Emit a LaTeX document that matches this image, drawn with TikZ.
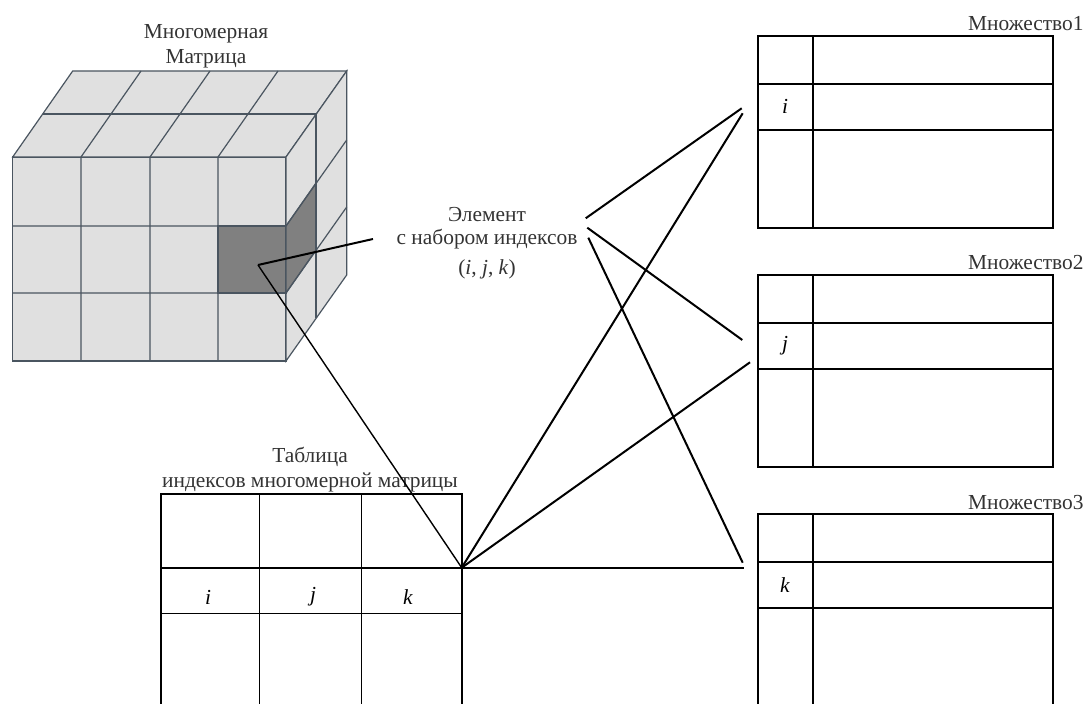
\documentclass[tikz,border=0pt]{standalone}
\usepackage{fontspec}
\setmainfont{Liberation Serif}
\definecolor{cubefill}{HTML}{E0E0E0}
\definecolor{cubeedge}{HTML}{4A5560}
\definecolor{cellfill}{HTML}{808080}
\tikzset{
  cube/.style={fill=cubefill, draw=cubeedge, line width=0.6pt},
  cell/.style={fill=cellfill, draw=cubeedge, line width=0.6pt},
  frame/.style={draw=black, line width=1pt},
  grid/.style={draw=black, line width=0.5pt},
  link/.style={draw=black, line width=1pt},
  thinlink/.style={draw=black, line width=0.7pt},
  lbl/.style={align=center, inner sep=0pt, text=black!80}
}
\begin{document}
\begin{tikzpicture}[x=0.5pt, y=-0.5pt, font=\fontsize{10.7}{12.5}\selectfont]
\useasboundingbox (0,0) rectangle (1087,704);
% cube
\filldraw[cube] (12.7,157) rectangle (286,361);
\filldraw[cube] (12.7,157) -- (72.7,71) -- (346.7,71) -- (286,157) -- cycle;
\filldraw[cube] (286,157) -- (346.7,71) -- (346.7,275) -- (286,361) -- cycle;
\filldraw[cell] (218,226) rectangle (286,293);
\filldraw[cell] (286,226) -- (316,183) -- (316,250) -- (286,293) -- cycle;
\foreach \x in {81,150,218}
  \draw[cubeedge, line width=0.6pt] (\x,361) -- (\x,157) -- ++(60,-86);
\foreach \y in {226,293}
  \draw[cubeedge, line width=0.6pt] (12.7,\y) -- (286,\y) -- ++(60.7,-86);
\draw[cubeedge, line width=0.6pt] (42.7,114) -- (316,114) -- (316,318);
\node[lbl] (cubetitle) at (206,46) {Многомерная\\Матрица};
% index table
\draw[grid] (259,494) -- (259,710) (361,494) -- (361,710) (161,614) -- (462,614);
\draw[frame] (161,710) -- (161,494) -- (462,494) -- (462,710) (161,568) -- (462,568);
\node[lbl] (tabtitle) at (310,470) {Таблица\\индексов многомерной матрицы};
\node (ti) at (208,597) {\textit{i}};
\node (tj) at (313,597) {\textit{j}};
\node (tk) at (408,597) {\textit{k}};
% sets
\foreach \n/\t/\l in {1/35.7/i, 2/275/j, 3/514.3/k} {
  \draw[frame] (757.7,\t) rectangle (1052.7,\t+192.3);
  \draw[frame] (812.7,\t) -- (812.7,\t+192.3);
  \draw[frame] (757.7,\t+48) -- (1052.7,\t+48);
  \draw[frame] (757.7,\t+94) -- (1052.7,\t+94);
  \node (idx\n) at (785,\t+71) {\textit{\l}};
  \node[anchor=base east, inner sep=0pt, text=black!80] (set\n) at (1084,\t-5) {Множество\n};
}
% element
\node[lbl] (elem) at (487,243.5) {Элемент\\[-1pt]с набором индексов\\[2.5pt](\textit{i}, \textit{j}, \textit{k})};
\coordinate (cell) at (258,265);
\coordinate (corner) at (461.7,567.7);
\coordinate (e0) at (373,239);
\coordinate (e1) at (585.7,218.3);
\coordinate (e2) at (587.3,227.7);
\coordinate (e3) at (588.3,237.7);
\coordinate (s1a) at (741.7,108.3);
\coordinate (s1b) at (742.7,113.3);
\coordinate (s2a) at (742.3,340);
\coordinate (s2b) at (750,362.3);
\coordinate (s3a) at (742.7,562.7);
\coordinate (s3b) at (744.3,567.7);
\draw[link] (cell) -- (e0);
\draw[thinlink] (cell) -- (corner);
\draw[link] (e1) -- (s1a);
\draw[link] (e2) -- (s2a);
\draw[link] (e3) -- (s3a);
\draw[link] (corner) -- (s1b);
\draw[link] (corner) -- (s2b);
\draw[link] (corner) -- (s3b);
\end{tikzpicture}
\end{document}
